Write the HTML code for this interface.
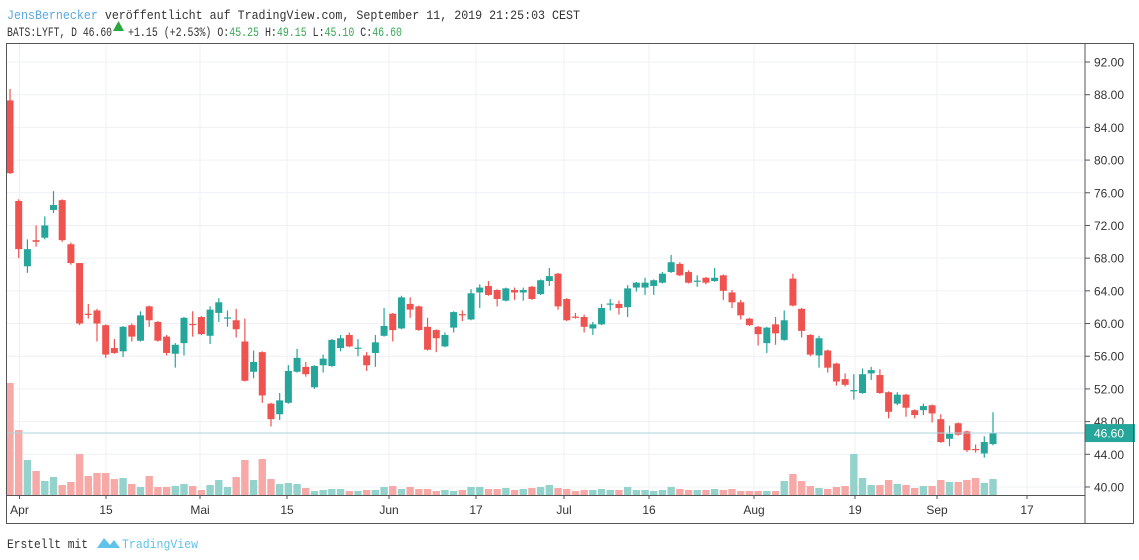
<!DOCTYPE html>
<html><head><meta charset="utf-8"><style>
html,body{margin:0;padding:0;background:#fff;width:1139px;height:560px;overflow:hidden}
svg{display:block}
</style></head><body>
<svg id="s" width="1139" height="560" xmlns="http://www.w3.org/2000/svg" font-family="Liberation Sans, sans-serif">
<text x="7" y="19" font-family="Liberation Mono, monospace" font-size="12.5" fill="#333" textLength="573" lengthAdjust="spacingAndGlyphs"><tspan fill="#5aa8e0">JensBernecker</tspan> veröffentlicht auf TradingView.com, September 11, 2019 21:25:03 CEST</text>
<text x="7" y="36" font-family="Liberation Mono, monospace" font-size="12.5" fill="#333" textLength="105" lengthAdjust="spacingAndGlyphs">BATS:LYFT, D 46.60</text>
<polygon points="113,31 124,31 118.5,21" fill="#2aa83c"/>
<text x="128" y="36" font-family="Liberation Mono, monospace" font-size="12.5" fill="#333" textLength="274" lengthAdjust="spacingAndGlyphs">+1.15 (+2.53%) O:<tspan fill="#3aa757">45.25</tspan> H:<tspan fill="#3aa757">49.15</tspan> L:<tspan fill="#3aa757">45.10</tspan> C:<tspan fill="#3aa757">46.60</tspan></text>
<text x="7" y="548" font-family="Liberation Mono, monospace" font-size="12.5" fill="#333" textLength="81" lengthAdjust="spacingAndGlyphs">Erstellt mit</text>
<path d="M97,548 L104,538 L110,545 L114,540 L120,548 Z" fill="#5ec2ea"/>
<text x="122" y="548" font-family="Liberation Mono, monospace" font-size="12.5" fill="#5ec2ea" textLength="76" lengthAdjust="spacingAndGlyphs">TradingView</text>
<g id="g"></g>
</svg>
<script>
const g=document.getElementById('g');let h='';
const Y=p=>62+(92-p)*8.173;
for(let p=40;p<=92;p+=4){const y=Y(p);h+=`<line x1="6" x2="1085" y1="${y}" y2="${y}" stroke="#eef0f5"/>`;h+=`<line x1="1085" x2="1090" y1="${y}" y2="${y}" stroke="#555"/>`;h+=`<text x="1094" y="${y+4.5}" font-size="12" fill="#333">${p.toFixed(2)}</text>`;}
const xl=[[19.5,'Apr'],[106,'15'],[200,'Mai'],[287,'15'],[389,'Jun'],[476,'17'],[564,'Jul'],[649,'16'],[754,'Aug'],[855,'19'],[937,'Sep'],[1027,'17']];
xl.forEach(([x,t])=>{h+=`<line x1="${x}" x2="${x}" y1="43" y2="495" stroke="#eef0f5"/><line x1="${x}" x2="${x}" y1="495" y2="499" stroke="#555"/><text x="${x}" y="514" font-size="12" fill="#333" text-anchor="middle">${t}</text>`;});
const C=[[87.3,78.4,88.7,78.3],[75,69.1,75.2,68],[67,69.1,70.3,66.2],[70.2,70,72,69.4],[70.5,72,73.1,70.3],[73.9,74.5,76.2,73.5],[75.1,70.2,75.2,70],[69.7,67.4,69.9,67.2],[67.4,60,67.4,59.8],[61.2,61.1,62.4,60.6],[61.6,60,61.8,57.8],[59.8,56.2,59.9,55.8],[57,56.4,58.1,56.3],[56.6,59.6,59.7,55.9],[59.8,58.4,60,57.8],[57.9,61,61.5,57.8],[62.1,60.4,62.2,59.6],[60.2,57.9,60.3,57.8],[58.4,56.4,58.6,56.1],[56.3,57.4,57.6,54.6],[57.6,60.7,60.8,56.1],[59.95,59.85,61.5,58.4],[60.8,58.7,60.9,58.6],[58.5,61.7,62.1,57.5],[61.3,62.6,63.1,60.2],[60.65,60.75,61.6,59.6],[60.4,59.3,61.8,58.3],[57.8,53,60.6,52.9],[54.1,55.3,56.7,53.3],[56.5,51.2,56.6,50.3],[50.2,48.3,50.3,47.4],[48.9,50.6,51.5,48.2],[50.3,54.2,54.9,50.2],[54.1,55.8,56.9,54],[54.7,53.8,55.3,53.5],[52.2,54.8,54.9,52],[54.9,55.7,56.2,54],[54.8,58,58.1,54.7],[57,58.2,58.6,56.6],[58.6,57.2,58.9,57.1],[56.95,57.05,58.1,56],[56.1,54.9,56.5,54.2],[56.4,57.7,58.6,54.7],[58.5,59.7,61.9,58.4],[61.2,59.2,61.3,57.8],[59.4,63.2,63.4,59.3],[62.4,61.7,63.2,60.7],[62.1,59.2,62.2,59.1],[59.6,56.8,60.7,56.7],[59.2,58.2,59.3,56.5],[57.2,58.6,58.9,57.1],[59.5,61.4,61.5,58.9],[61.15,61.05,61.6,60.3],[60.5,63.7,64.2,60.4],[63.8,64.4,64.8,61.9],[64.6,63.5,65.2,63.4],[64.1,63,64.2,62.1],[62.8,64.3,64.4,62.7],[64.1,63.8,64.4,62.9],[63.8,64.1,64.4,62.8],[64.5,63,64.6,62.9],[63.6,65.3,65.4,63.5],[65.2,65.8,66.8,64.6],[66.1,62.1,66.2,61.7],[63,60.4,63.1,60.3],[60.85,60.75,61.3,60.6],[60.8,59.6,61.1,58.9],[59.4,59.9,60.2,58.6],[59.9,61.9,62.4,59.8],[62.35,62.45,63,61.6],[62.4,61.9,62.8,61.1],[62,64.3,64.7,60.8],[64.4,65,65.1,63.9],[64.4,65,65.6,63.5],[64.6,65.3,65.4,63.5],[65,66.1,66.3,64.9],[66.3,67.5,68.4,66.2],[67.3,65.9,67.5,65.8],[66.3,65,66.5,64.9],[65.15,65.25,65.9,64.5],[65.6,65,65.7,64.8],[65.2,65.6,66.8,65.1],[65.9,64,66,62.9],[63.8,62.6,64.1,61.9],[62.6,61,62.9,60.5],[60.6,59.8,60.7,59.7],[59.6,58.7,59.7,57.3],[57.6,59.5,59.6,56.4],[59.9,58.8,60.8,57.4],[58,60.4,61.6,57.9],[65.5,62.2,66.1,62.1],[61.8,59.1,61.9,58.3],[58.6,56.2,58.7,56],[56.1,58.2,58.5,54.6],[56.7,54.6,56.8,54],[55.1,52.9,55.2,52.4],[53.2,52.5,53.9,52.3],[51.75,51.85,53.8,50.7],[51.5,53.8,54.5,51.4],[53.9,54.3,54.7,53.1],[53.7,51.5,54.4,51.4],[51.6,49.2,51.7,48.4],[50.2,51.3,51.6,50],[51.3,49.7,51.4,48.6],[49.4,48.8,49.5,48.4],[49.4,49.9,50.2,48.8],[50,49,50.1,47.9],[48.3,45.5,48.9,45.4],[45.9,46.5,47.5,45],[47.8,46.4,47.9,46.3],[46.8,44.5,46.9,44.3],[44.65,44.55,45.2,44.2],[44.1,45.5,46.2,43.6],[45.25,46.6,49.15,45.1]];
const V=[383,430,460,471,481,477,485,482,454,476,473,473,479,478,484,487,476,487,487,486,484,486,490,485,480,487,477,460,480,459,479,484,483,484,488,491,490,489,489,491,491,490,490,487,486,489,487,489,489,491,490,491,490,487,487,489,489,488,490,489,488,487,485,488,489,491,490,490,489,490,490,487,490,490,491,490,487,489,490,490,490,489,490,489,491,491,491,491,491,481,474,481,486,488,489,487,486,454,478,485,485,480,484,485,488,486,486,480,482,482,480,478,483,479];
const st=(993-10)/113;
C.forEach((c,i)=>{const x=10+i*st;const up=c[1]>=c[0];const col=up?'#26a69a':'#ef5350';const vc=up?'#93d3cc':'#f7a9a7';
h+=`<rect x="${x-3.7}" y="${V[i]}" width="7.4" height="${495-V[i]}" fill="${vc}"/>`;
const t=Y(Math.max(c[0],c[1])),b=Y(Math.min(c[0],c[1]));
h+=`<line x1="${x}" x2="${x}" y1="${Y(c[2])}" y2="${Y(c[3])}" stroke="${col}" stroke-width="1.2"/>`;
h+=`<rect x="${x-3.5}" y="${t}" width="7" height="${Math.max(b-t,1.2)}" fill="${col}"/>`;});
const py=Y(46.6);
h+=`<line x1="6" x2="1085" y1="${py}" y2="${py}" stroke="#a9d6dc"/>`;
h+=`<rect x="1085" y="${py-9}" width="50" height="18" fill="#26a69a"/><text x="1094" y="${py+4.5}" font-size="12" fill="#fff">46.60</text>`;
h+=`<rect x="6.5" y="43.5" width="1127" height="480" fill="none" stroke="#555"/><line x1="1085" x2="1085" y1="43" y2="523" stroke="#555"/><line x1="6" x2="1085" y1="495.5" y2="495.5" stroke="#555"/>`;
g.innerHTML=h;
</script>
</body></html>
